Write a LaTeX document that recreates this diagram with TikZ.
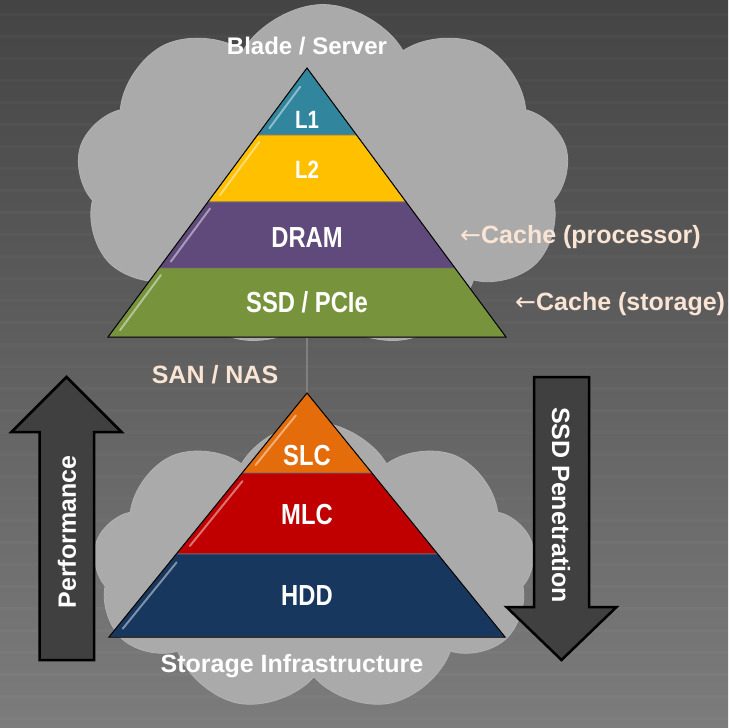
\documentclass[tikz,border=0pt]{standalone}
\usepackage{fontspec}
\setmainfont{Liberation Sans}
\newfontfamily\narrowfont[FakeStretch=0.82]{Liberation Sans}
\newfontfamily\arrowfont{DejaVu Sans}
\usetikzlibrary{shapes.symbols}
\usetikzlibrary{calc}

\definecolor{bgtop}{RGB}{68,68,68}
\definecolor{bgbottom}{RGB}{124,124,124}
\definecolor{cloudgray}{RGB}{170,170,170}
\definecolor{peach}{RGB}{250,228,212}
\definecolor{arrowgray}{RGB}{64,64,64}
\definecolor{lonecol}{RGB}{49,133,156}
\definecolor{ltwocol}{RGB}{255,192,0}
\definecolor{dramcol}{RGB}{96,74,123}
\definecolor{ssdcol}{RGB}{119,147,60}
\definecolor{slccol}{RGB}{228,108,10}
\definecolor{mlccol}{RGB}{192,0,0}
\definecolor{hddcol}{RGB}{23,55,94}

\tikzset{
  cloudbg/.style={cloud, cloud puffs=9, cloud puff arc=120, cloud ignores aspect,
    fill=cloudgray, draw=black!30, line width=.8pt, inner sep=0pt},
  layer/.style={draw=black!55, line width=.6pt},
  gloss/.style={draw=white, opacity=.45, line width=2pt, line cap=round},
  layertext/.style={text=white, anchor=base, font=\narrowfont\bfseries\fontsize{29}{30}\selectfont},
  smalllayertext/.style={layertext, font=\narrowfont\bfseries\fontsize{25}{26}\selectfont},
  title/.style={text=white, anchor=base, font=\bfseries\fontsize{24}{26}\selectfont},
  note/.style={text=peach, font=\bfseries\fontsize{25}{26}\selectfont},
  bigarrow/.style={fill=arrowgray, draw=black, line width=2.5pt, line join=miter},
  arrowtext/.style={text=white, font=\bfseries\fontsize{25}{26}\selectfont},
}

\begin{document}
\begin{tikzpicture}[x=1pt, y=-1pt]
  \useasboundingbox (0,0) rectangle (728,728);
  \fill[top color=bgtop, bottom color=bgbottom] (0,0) rectangle (728,728);
  \foreach \y in {14,36,...,718}
    \draw[white, opacity=.025, line width=3pt] (0,\y) -- (728,\y);

  \node (srvcloud) [cloudbg, minimum width=493pt, minimum height=345pt] at (323,177) {};
  \node (stocloud) [cloudbg, minimum width=442pt, minimum height=290pt] at (314,567) {};

  \coordinate (ta) at (307,68);
  \coordinate (tl) at (108,337);
  \coordinate (tr) at (506,337);
  \path ($(ta)!.249!(tl)$) coordinate (t1l) ($(ta)!.249!(tr)$) coordinate (t1r);
  \path ($(ta)!.498!(tl)$) coordinate (t2l) ($(ta)!.498!(tr)$) coordinate (t2r);
  \path ($(ta)!.744!(tl)$) coordinate (t3l) ($(ta)!.744!(tr)$) coordinate (t3r);
  \path ($(tl)!.5!(tr)$) coordinate (tb);

  \coordinate (ba) at (307,393);
  \coordinate (bl) at (109,637);
  \coordinate (br) at (505,637);
  \path ($(ba)!.328!(bl)$) coordinate (b1l) ($(ba)!.328!(br)$) coordinate (b1r);
  \path ($(ba)!.66!(bl)$) coordinate (b2l) ($(ba)!.66!(br)$) coordinate (b2r);

  \draw[black!50, line width=2pt] (tb) -- (ba);

  \filldraw[layer, fill=lonecol] (ta) -- (t1l) -- (t1r) -- cycle;
  \filldraw[layer, fill=ltwocol] (t1l) -- (t2l) -- (t2r) -- (t1r) -- cycle;
  \filldraw[layer, fill=dramcol] (t2l) -- (t3l) -- (t3r) -- (t2r) -- cycle;
  \filldraw[layer, fill=ssdcol] (t3l) -- (tl) -- (tr) -- (t3r) -- cycle;
  \draw[line width=1pt] (ta) -- (tl) -- (tr) -- cycle;

  \filldraw[layer, fill=slccol] (ba) -- (b1l) -- (b1r) -- cycle;
  \filldraw[layer, fill=mlccol] (b1l) -- (b2l) -- (b2r) -- (b1r) -- cycle;
  \filldraw[layer, fill=hddcol] (b2l) -- (bl) -- (br) -- (b2r) -- cycle;
  \draw[line width=1pt] (ba) -- (bl) -- (br) -- cycle;

  \foreach \a/\b/\f in {t1l/ta/.72, t2l/t1l/.9, t3l/t2l/.9, tl/t3l/.9, b1l/ba/.72, b2l/b1l/.9, bl/b2l/.9}
    \draw[gloss] ($(\a)!.1!(\b)+(7,0)$) -- ($(\a)!\f!(\b)+(7,0)$);

  \node (blade) [title] at (307,54) {Blade / Server};
  \node (lone) [smalllayertext] at (307,128) {L1};
  \node (ltwo) [smalllayertext] at (307,178) {L2};
  \node (dram) [layertext] at (307,247) {DRAM};
  \node (ssd) [layertext] at (307,312) {SSD / PCIe};

  \node (cproc) [note, anchor=base west, inner sep=0pt] at (460,243) {{\arrowfont\mdseries ←}Cache (processor)};
  \node (cstor) [note, anchor=base west, inner sep=0pt] at (515,310) {{\arrowfont\mdseries ←}Cache (storage)};
  \node (san) [note, anchor=base, inner sep=0pt] at (215,383) {SAN / NAS};

  \node (slc) [layertext] at (307,465) {SLC};
  \node (mlc) [layertext] at (307,524) {MLC};
  \node (hdd) [layertext] at (307,605) {HDD};
  \node (stor) [title, font=\bfseries\fontsize{25}{26}\selectfont] at (292,672) {Storage Infrastructure};

  \draw[bigarrow] (39.5,660) -- (39.5,432) -- (11.5,432) -- (66.5,377)
    -- (121.5,432) -- (94,432) -- (94,660) -- cycle;
  \draw[bigarrow] (534,377) -- (589,377) -- (589,607) -- (616.5,607)
    -- (561.5,660) -- (506.5,607) -- (534,607) -- cycle;
  \node (perf) [arrowtext, rotate=90] at (67,532) {Performance};
  \node (pen) [arrowtext, rotate=-90] at (561,505) {SSD Penetration};
\end{tikzpicture}
\end{document}
